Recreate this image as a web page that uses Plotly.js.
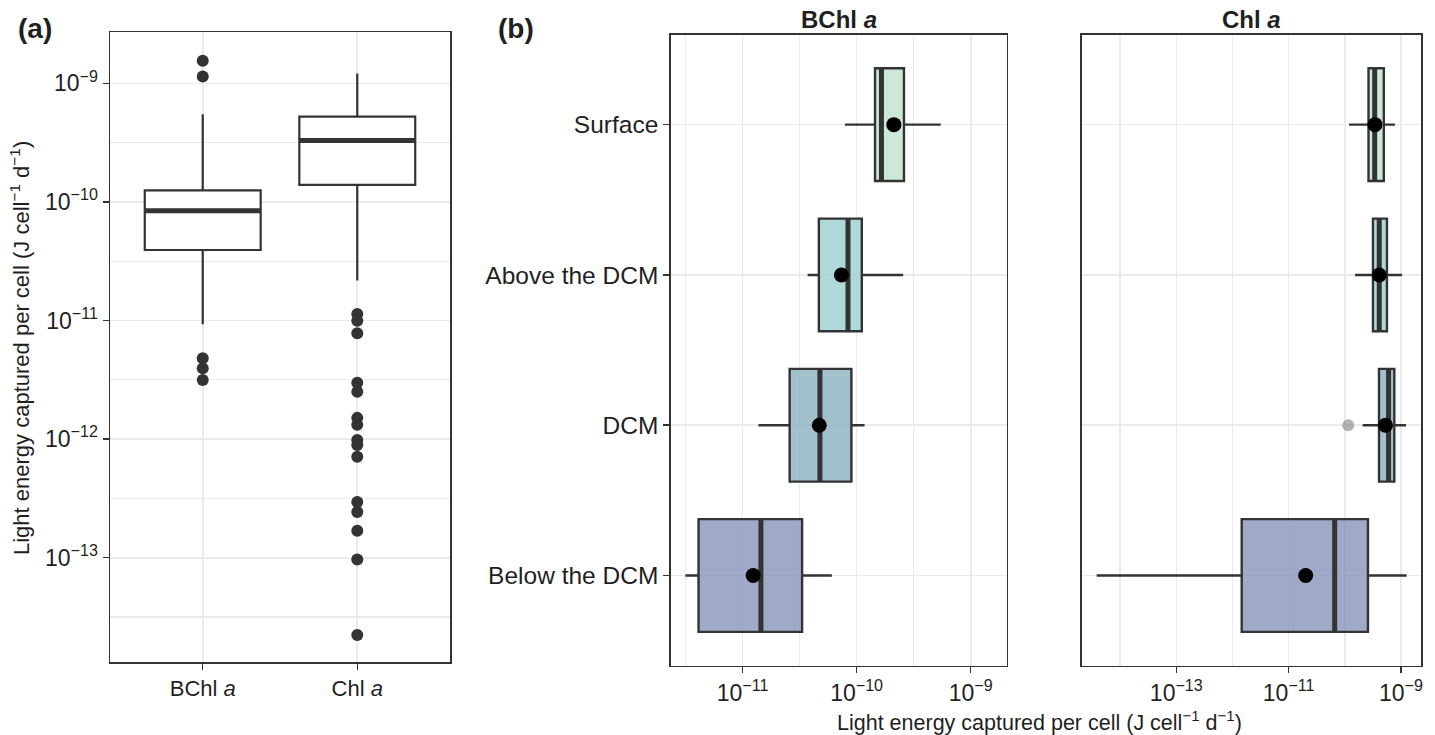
<!DOCTYPE html>
<html>
<head>
<meta charset="utf-8">
<script src="https://cdn.plot.ly/plotly-3.0.1.min.js"></script>
<style>html,body{margin:0;padding:0;background:#fff;}#chart{width:1435px;height:735px;}</style>
</head>
<body>
<div id="chart"></div>
<script>
// ---------- Panel (a): all samples by pigment ----------
const pigments = ['BChl <i>a</i>', 'Chl <i>a</i>'];
const aQ1 = [3.93e-11, 1.39e-10];
const aMedian = [8.43e-11, 3.30e-10];
const aQ3 = [1.25e-10, 5.23e-10];
const aLower = [9.29e-12, 2.17e-11];
const aUpper = [5.48e-10, 1.21e-9];
const aOutliersBChl = [1.55e-9, 1.14e-9, 4.8e-12, 3.95e-12, 3.15e-12];
const aOutliersChl = [1.135e-11, 9.95e-12, 7.8e-12, 2.99e-12, 2.51e-12, 1.51e-12, 1.32e-12,
  9.82e-13, 8.91e-13, 7.11e-13, 2.95e-13, 2.43e-13, 1.69e-13, 9.66e-14, 2.23e-14];
const aTickVals = [1e-13, 1e-12, 1e-11, 1e-10, 1e-9];
const aTickText = ['10<sup>−13</sup>', '10<sup>−12</sup>', '10<sup>−11</sup>', '10<sup>−10</sup>', '10<sup>−9</sup>'];

// ---------- Panel (b): by depth layer ----------
const depths = ['Surface', 'Above the DCM', 'DCM', 'Below the DCM'];
// BChl a
const bchlQ1 = [1.45e-10, 4.67e-11, 2.59e-11, 4.12e-12];
const bchlMedian = [1.65e-10, 8.4e-11, 4.77e-11, 1.45e-11];
const bchlQ3 = [2.6e-10, 1.11e-10, 9.0e-11, 3.33e-11];
const bchlLower = [7.9e-11, 3.72e-11, 1.38e-11, 3.16e-12];
const bchlUpper = [5.46e-10, 2.56e-10, 1.175e-10, 6.07e-11];
const bchlMean = [2.12e-10, 7.36e-11, 4.71e-11, 1.24e-11];
// Chl a
const chlQ1 = [2.64e-10, 3.17e-10, 4.06e-10, 1.46e-12];
const chlMedian = [3.4e-10, 4.1e-10, 6.0e-10, 6.6e-11];
const chlQ3 = [4.94e-10, 5.62e-10, 7.6e-10, 2.58e-10];
const chlLower = [1.19e-10, 1.52e-10, 2.08e-10, 3.83e-15];
const chlUpper = [7.8e-10, 1.04e-9, 1.23e-9, 1.26e-9];
const chlMean = [3.44e-10, 4.1e-10, 5.3e-10, 2.01e-11];
const chlOutlierDepth = ['DCM'];
const chlOutlierValue = [1.15e-10];

const bchlTickVals = [1e-11, 1e-10, 1e-9];
const bchlTickText = ['10<sup>−11</sup>', '10<sup>−10</sup>', '10<sup>−9</sup>'];
const chlTickVals = [1e-13, 1e-11, 1e-9];
const chlTickText = ['10<sup>−13</sup>', '10<sup>−11</sup>', '10<sup>−9</sup>'];

// ---------- styling ----------
const FONT = 'Liberation Sans, Arial, Helvetica, sans-serif';
const DARK = '#333333';
const TXT = '#1f1f1f';
const GRID = '#ebebeb';
const depthFills = ['rgba(191,226,204,0.8)', 'rgba(156,209,209,0.8)', 'rgba(140,176,192,0.8)', 'rgba(136,148,185,0.8)'];
const BOXW = 0.75;
const W = 1435, H = 735;
const px = v => v / W;
const py = v => 1 - v / H;

const traces = [];

// Panel (a) boxes
const aPos = pigments.map((p, i) => i + 1);
aPos.forEach((pos, i) => {
  traces.push({
    type: 'box', x: [pos], q1: [aQ1[i]], median: [aMedian[i]], q3: [aQ3[i]],
    lowerfence: [aLower[i]], upperfence: [aUpper[i]],
    width: BOXW, fillcolor: '#ffffff', line: {color: DARK, width: 2.2},
    whiskerwidth: 0, boxpoints: false, xaxis: 'x', yaxis: 'y', hoverinfo: 'skip'
  });
});
// thick medians (a)
(function () {
  const xs = [], ys = [];
  aPos.forEach((pos, i) => { xs.push(pos - BOXW / 2, pos + BOXW / 2, null); ys.push(aMedian[i], aMedian[i], null); });
  traces.push({type: 'scatter', mode: 'lines', x: xs, y: ys, line: {color: DARK, width: 5}, xaxis: 'x', yaxis: 'y', hoverinfo: 'skip'});
})();
// outliers (a)
traces.push({
  type: 'scatter', mode: 'markers',
  x: aOutliersBChl.map(() => aPos[0]).concat(aOutliersChl.map(() => aPos[1])),
  y: aOutliersBChl.concat(aOutliersChl),
  marker: {color: DARK, size: 12}, xaxis: 'x', yaxis: 'y', hoverinfo: 'skip'
});

// Panel (b) helper
const dPos = depths.map((d, i) => i + 1);
function addPanel(q1, med, q3, lo, hi, mean, xa, ya) {
  dPos.forEach((pos, i) => {
    traces.push({
      type: 'box', orientation: 'h', y: [pos], q1: [q1[i]], median: [med[i]], q3: [q3[i]],
      lowerfence: [lo[i]], upperfence: [hi[i]],
      width: BOXW, fillcolor: depthFills[i], line: {color: DARK, width: 2.4},
      whiskerwidth: 0, boxpoints: false, xaxis: xa, yaxis: ya, hoverinfo: 'skip'
    });
  });
  const xs = [], ys = [];
  dPos.forEach((pos, i) => { xs.push(med[i], med[i], null); ys.push(pos - BOXW / 2, pos + BOXW / 2, null); });
  traces.push({type: 'scatter', mode: 'lines', x: xs, y: ys, line: {color: DARK, width: 5}, xaxis: xa, yaxis: ya, hoverinfo: 'skip'});
  traces.push({type: 'scatter', mode: 'markers', x: mean, y: dPos, marker: {color: '#000000', size: 15}, xaxis: xa, yaxis: ya, hoverinfo: 'skip'});
}
addPanel(bchlQ1, bchlMedian, bchlQ3, bchlLower, bchlUpper, bchlMean, 'x2', 'y2');
// grey outlier in Chl a (drawn beneath the mean)
traces.push({
  type: 'scatter', mode: 'markers', x: chlOutlierValue,
  y: chlOutlierDepth.map(d => depths.indexOf(d) + 1),
  marker: {color: 'rgba(128,128,128,0.6)', size: 12}, xaxis: 'x3', yaxis: 'y3', hoverinfo: 'skip'
});
addPanel(chlQ1, chlMedian, chlQ3, chlLower, chlUpper, chlMean, 'x3', 'y3');

const frame = {showline: true, mirror: true, linecolor: DARK, linewidth: 1.5, zeroline: false,
  showgrid: true, gridcolor: GRID, gridwidth: 1.6, ticks: 'outside', ticklen: 6, tickwidth: 1.5, tickcolor: DARK};

const panelYDomain = [py(665.7), py(34.5)];

const layout = {
  width: W, height: H, margin: {l: 0, r: 0, t: 0, b: 0},
  paper_bgcolor: '#ffffff', plot_bgcolor: '#ffffff', showlegend: false, boxmode: 'overlay',
  font: {family: FONT, color: TXT},
  xaxis: Object.assign({}, frame, {
    domain: [px(110), px(450)], anchor: 'y', range: [0.4, 2.6],
    tickmode: 'array', tickvals: aPos, ticktext: pigments, tickfont: {size: 22, color: TXT}
  }),
  yaxis: Object.assign({}, frame, {
    domain: [py(662.3), py(32.3)], anchor: 'x', type: 'log', range: [-13.882, -8.570],
    tickmode: 'array', tickvals: aTickVals, ticktext: aTickText, tickfont: {size: 23, color: TXT},
    minor: {tickmode: 'array', tickvals: [Math.pow(10, -13.5), Math.pow(10, -12.5), Math.pow(10, -11.5), Math.pow(10, -10.5), Math.pow(10, -9.5)],
      showgrid: true, gridcolor: GRID, gridwidth: 1.1, ticks: ''}
  }),
  xaxis2: Object.assign({}, frame, {
    domain: [px(670.7), px(1006.8)], anchor: 'y2', type: 'log', range: [-11.629, -8.684],
    tickmode: 'array', tickvals: bchlTickVals, ticktext: bchlTickText, tickfont: {size: 23, color: TXT},
    minor: {tickmode: 'array', tickvals: [Math.pow(10, -11.5), Math.pow(10, -10.5), Math.pow(10, -9.5)],
      showgrid: true, gridcolor: GRID, gridwidth: 1.1, ticks: ''}
  }),
  yaxis2: Object.assign({}, frame, {
    domain: panelYDomain, anchor: 'x2', range: [4.6, 0.4],
    tickmode: 'array', tickvals: dPos, ticktext: depths, tickfont: {size: 24.5, color: TXT}
  }),
  xaxis3: Object.assign({}, frame, {
    domain: [px(1081.7), px(1421)], anchor: 'y3', type: 'log', range: [-14.684, -8.644],
    tickmode: 'array', tickvals: chlTickVals, ticktext: chlTickText, tickfont: {size: 23, color: TXT},
    minor: {tickmode: 'array', tickvals: [1e-14, 1e-12, 1e-10],
      showgrid: true, gridcolor: GRID, gridwidth: 1.6, ticks: ''}
  }),
  yaxis3: Object.assign({}, frame, {
    domain: panelYDomain, anchor: 'x3', range: [4.6, 0.4],
    tickmode: 'array', tickvals: dPos, showticklabels: false, ticks: ''
  }),
  annotations: [
    {text: '<b>(a)</b>', xref: 'paper', yref: 'paper', x: px(16), y: py(28.5), xanchor: 'left', yanchor: 'middle', showarrow: false, font: {size: 28, color: TXT}},
    {text: '<b>(b)</b>', xref: 'paper', yref: 'paper', x: px(496), y: py(28.5), xanchor: 'left', yanchor: 'middle', showarrow: false, font: {size: 28, color: TXT}},
    {text: '<b>BChl <i>a</i></b>', xref: 'paper', yref: 'paper', x: px(838.8), y: py(19), xanchor: 'center', yanchor: 'middle', showarrow: false, font: {size: 24, color: TXT}},
    {text: '<b>Chl <i>a</i></b>', xref: 'paper', yref: 'paper', x: px(1251), y: py(19), xanchor: 'center', yanchor: 'middle', showarrow: false, font: {size: 24, color: TXT}},
    {text: 'Light energy captured per cell (J cell<sup>−1</sup> d<sup>−1</sup>)', xref: 'paper', yref: 'paper', x: px(20), y: py(348), xanchor: 'center', yanchor: 'middle', textangle: -90, showarrow: false, font: {size: 22, color: TXT}},
    {text: 'Light energy captured per cell (J cell<sup>−1</sup> d<sup>−1</sup>)', xref: 'paper', yref: 'paper', x: px(1039), y: py(721), xanchor: 'center', yanchor: 'middle', showarrow: false, font: {size: 21.5, color: TXT}}
  ]
};

Plotly.newPlot('chart', traces, layout, {staticPlot: true, displayModeBar: false});
</script>
</body>
</html>
